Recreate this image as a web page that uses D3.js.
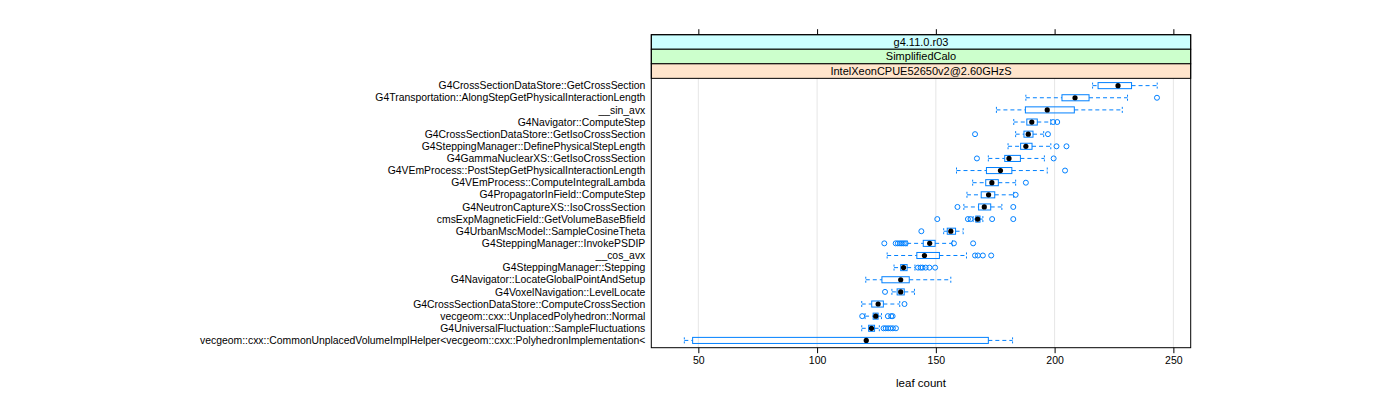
<!DOCTYPE html>
<html>
<head>
<meta charset="utf-8">
<script src="https://cdn.jsdelivr.net/npm/d3@7"></script>
<style>
    body { margin: 0; background: #fff; }
    svg text { font-family: "Liberation Sans", Arial, sans-serif; }
</style>
</head>
<body>
<div id="main_area"></div>
<script>
// categories, top to bottom
var categories = [
    "G4CrossSectionDataStore::GetCrossSection",
    "G4Transportation::AlongStepGetPhysicalInteractionLength",
    "__sin_avx",
    "G4Navigator::ComputeStep",
    "G4CrossSectionDataStore::GetIsoCrossSection",
    "G4SteppingManager::DefinePhysicalStepLength",
    "G4GammaNuclearXS::GetIsoCrossSection",
    "G4VEmProcess::PostStepGetPhysicalInteractionLength",
    "G4VEmProcess::ComputeIntegralLambda",
    "G4PropagatorInField::ComputeStep",
    "G4NeutronCaptureXS::IsoCrossSection",
    "cmsExpMagneticField::GetVolumeBaseBfield",
    "G4UrbanMscModel::SampleCosineTheta",
    "G4SteppingManager::InvokePSDIP",
    "__cos_avx",
    "G4SteppingManager::Stepping",
    "G4Navigator::LocateGlobalPointAndSetup",
    "G4VoxelNavigation::LevelLocate",
    "G4CrossSectionDataStore::ComputeCrossSection",
    "vecgeom::cxx::UnplacedPolyhedron::Normal",
    "G4UniversalFluctuation::SampleFluctuations",
    "vecgeom::cxx::CommonUnplacedVolumeImplHelper<vecgeom::cxx::PolyhedronImplementation<"
];
var whiskerLow  = [216.0, 187.9, 175.5, 182.8, 183.6, 180.4, 172.1, 158.7, 165.5, 163.1, 161.8, 165.7, 153.3, 137.9, 129.5, 132.4, 120.5, 131.5, 118.8, 120.2, 118.8, 44.1];
var q1          = [218.3, 203.1, 187.7, 188.3, 187.1, 185.7, 179.0, 171.3, 171.0, 169.1, 168.0, 166.8, 154.8, 144.7, 142.0, 135.2, 127.3, 133.7, 123.0, 123.6, 121.7, 47.6];
var medians     = [226.7, 208.6, 196.9, 190.4, 188.9, 187.9, 180.8, 177.2, 173.6, 172.2, 170.4, 167.6, 156.3, 147.4, 145.2, 136.4, 135.2, 135.2, 125.7, 124.7, 122.9, 120.7];
var q3          = [232.4, 214.5, 208.3, 192.7, 190.9, 190.5, 185.6, 182.0, 176.3, 174.8, 173.1, 168.6, 158.3, 149.7, 151.5, 137.9, 138.8, 136.7, 127.9, 125.7, 124.2, 172.1];
var whiskerHigh = [243.2, 230.7, 228.5, 198.4, 195.4, 198.4, 195.7, 196.9, 183.6, 182.8, 177.8, 169.8, 161.5, 157.0, 162.9, 141.2, 156.3, 141.0, 134.8, 127.1, 126.2, 182.3];
var outliers = [
    [],
    [243.1],
    [],
    [199.4, 201.1],
    [166.5, 197.2],
    [200.8, 205.0],
    [167.3, 199.6],
    [204.4],
    [187.9],
    [183.6],
    [159.1, 182.6],
    [150.6, 163.5, 164.6, 173.7, 182.6],
    [143.9],
    [128.3, 133.1, 134.0, 134.9, 135.7, 136.5, 137.3, 157.6, 165.7],
    [166.5, 167.7, 169.8, 173.3],
    [142.5, 143.6, 144.4, 145.7, 147.3, 149.7],
    [],
    [128.6],
    [136.8],
    [119.0, 129.8, 131.2, 131.8],
    [128.0, 128.9, 129.9, 130.9, 131.9, 133.2],
    []
];
var stripLabels = ["g4.11.0.r03", "SimplifiedCalo", "IntelXeonCPUE52650v2@2.60GHzS"];
var stripColors = ["#ccffff", "#ccffcc", "#ffe5cc"];
var xTicks = [50, 100, 150, 200, 250];
var xDomain = [30.2, 257.3];

var boxColor = "#0080ff";

var panel = {left: 651.3, right: 1190.7, top: 34.7, bottom: 347.7},
    stripH = 14.55,
    plotTop = panel.top + stripH * stripLabels.length;

var svg = d3.select("div#main_area")
    .append("svg")
    .attr("width", 1400)
    .attr("height", 400);

var xScale = d3.scaleLinear()
    .domain(xDomain)
    .range([panel.left, panel.right]);

// categories on 1..n, padded by 0.6 as lattice does
var n = categories.length;
var yScale = d3.scaleLinear()
    .domain([0.4, n + 0.6])
    .range([plotTop, panel.bottom]);
var yPos = function (i) { return yScale(i + 1); };
var boxH = (yScale(1.25) - yScale(0.75));

// grid lines
svg.append("g")
    .selectAll("line")
    .data(xTicks)
    .enter()
    .append("line")
    .attr("x1", function (d) { return xScale(d); })
    .attr("x2", function (d) { return xScale(d); })
    .attr("y1", plotTop)
    .attr("y2", panel.bottom)
    .attr("stroke", "#e6e6e6")
    .attr("stroke-width", 1);

// strips
var strips = svg.append("g")
    .selectAll("g")
    .data(stripLabels)
    .enter()
    .append("g");
strips.append("rect")
    .attr("x", panel.left)
    .attr("y", function (d, i) { return panel.top + i * stripH; })
    .attr("width", panel.right - panel.left)
    .attr("height", stripH)
    .attr("fill", function (d, i) { return stripColors[i]; })
    .attr("stroke", "#000")
    .attr("stroke-width", 1);
strips.append("text")
    .attr("x", (panel.left + panel.right) / 2)
    .attr("y", function (d, i) { return panel.top + i * stripH + stripH / 2; })
    .attr("dy", "0.36em")
    .attr("text-anchor", "middle")
    .attr("font-size", 11)
    .text(function (d) { return d; });

// whiskers
var rows = svg.append("g")
    .selectAll("g")
    .data(categories)
    .enter()
    .append("g")
    .attr("transform", function (d, i) { return "translate(0," + yPos(i) + ")"; });

rows.append("line")
    .attr("x1", function (d, i) { return xScale(whiskerLow[i]); })
    .attr("x2", function (d, i) { return xScale(q1[i]); })
    .attr("stroke", boxColor)
    .attr("stroke-dasharray", "4,3");
rows.append("line")
    .attr("x1", function (d, i) { return xScale(q3[i]); })
    .attr("x2", function (d, i) { return xScale(whiskerHigh[i]); })
    .attr("stroke", boxColor)
    .attr("stroke-dasharray", "4,3");
rows.append("line")
    .attr("x1", function (d, i) { return xScale(whiskerLow[i]); })
    .attr("x2", function (d, i) { return xScale(whiskerLow[i]); })
    .attr("y1", -boxH / 2)
    .attr("y2", boxH / 2)
    .attr("stroke", boxColor)
    .attr("stroke-dasharray", "2,2");
rows.append("line")
    .attr("x1", function (d, i) { return xScale(whiskerHigh[i]); })
    .attr("x2", function (d, i) { return xScale(whiskerHigh[i]); })
    .attr("y1", -boxH / 2)
    .attr("y2", boxH / 2)
    .attr("stroke", boxColor)
    .attr("stroke-dasharray", "2,2");

// boxes
rows.append("rect")
    .attr("x", function (d, i) { return xScale(q1[i]); })
    .attr("y", -boxH / 2)
    .attr("width", function (d, i) { return xScale(q3[i]) - xScale(q1[i]); })
    .attr("height", boxH)
    .attr("fill", "none")
    .attr("stroke", boxColor)
    .attr("stroke-width", 1);

// outliers
rows.selectAll("circle.out")
    .data(function (d, i) { return outliers[i]; })
    .enter()
    .append("circle")
    .attr("class", "out")
    .attr("cx", function (d) { return xScale(d); })
    .attr("cy", 0)
    .attr("r", 2.5)
    .attr("fill", "none")
    .attr("stroke", boxColor);

// median dots
rows.append("circle")
    .attr("cx", function (d, i) { return xScale(medians[i]); })
    .attr("cy", 0)
    .attr("r", 2.6)
    .attr("fill", "#000");

// category labels
rows.append("text")
    .attr("x", panel.left - 6)
    .attr("dy", "0.35em")
    .attr("text-anchor", "end")
    .attr("font-size", 10.4)
    .text(function (d) { return d; });

// panel border
svg.append("rect")
    .attr("x", panel.left)
    .attr("y", panel.top)
    .attr("width", panel.right - panel.left)
    .attr("height", panel.bottom - panel.top)
    .attr("fill", "none")
    .attr("stroke", "#000")
    .attr("stroke-width", 1);

// bottom axis with labels, top axis ticks only
svg.append("g")
    .attr("transform", "translate(0," + panel.bottom + ")")
    .call(d3.axisBottom(xScale).tickValues(xTicks).tickSize(5.5).tickPadding(3).tickSizeOuter(0))
    .call(function (g) { g.select(".domain").remove(); })
    .selectAll("text")
    .attr("font-size", 10.5)
    .attr("font-family", "\"Liberation Sans\", Arial, sans-serif")
    .attr("fill", "#000");
svg.append("g")
    .attr("transform", "translate(0," + panel.top + ")")
    .call(d3.axisTop(xScale).tickValues(xTicks).tickSize(5.5).tickFormat("").tickSizeOuter(0))
    .call(function (g) { g.select(".domain").remove(); });

// x label
svg.append("text")
    .attr("x", (panel.left + panel.right) / 2)
    .attr("y", 387)
    .attr("text-anchor", "middle")
    .attr("font-size", 11.5)
    .text("leaf count");
</script>
</body>
</html>
